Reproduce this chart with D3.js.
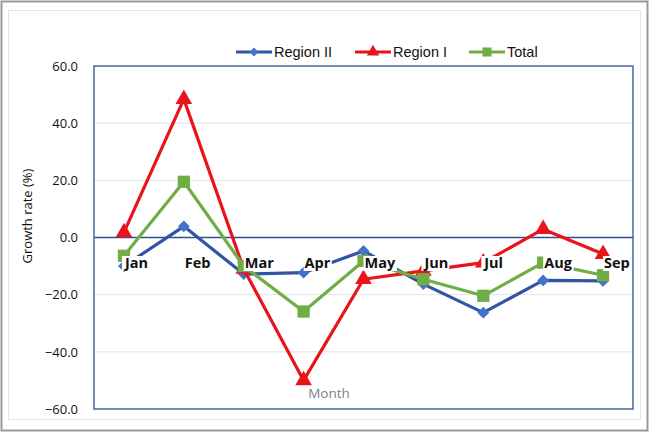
<!DOCTYPE html>
<html>
<head>
<meta charset="utf-8">
<script src="https://cdn.jsdelivr.net/npm/d3@7"></script>
<style>
  body { margin: 0; background: #fff; }
  svg { display: block; }
</style>
</head>
<body>
<div class="graph-container"></div>
<script>
var months = ['Jan', 'Feb', 'Mar', 'Apr', 'May', 'Jun', 'Jul', 'Aug', 'Sep'];
var regionII = [-10, 3.9, -12.8, -12.3, -4.7, -16.3, -26.3, -15, -15.2];
var regionI = [1.8, 48.4, -11, -50, -14.6, -11.7, -8.8, 2.9, -5.8];
var total = [-6.4, 19.5, -10, -25.9, -8.2, -14.6, -20.4, -8.8, -13.2];
var yTicks = [-60, -40, -20, 0, 20, 40, 60];

var svgWidth = 649;
var svgHeight = 432;
var plotLeft = 94;
var plotRight = 633;
var plotTop = 66;
var plotBottom = 409;

var series = [
  { name: 'Region II', values: regionII, line: '#2f55a4', fill: '#4472c4', shape: d3.symbolSquare, size: 70, rotate: 45 },
  { name: 'Region I', values: regionI, line: '#e8131b', fill: '#e8131b', shape: d3.symbolTriangle, size: 120, rotate: 0 },
  { name: 'Total', values: total, line: '#70ad47', fill: '#70ad47', shape: d3.symbolSquare, size: 150, rotate: 0 }
];

var svg = d3.select('.graph-container').append('svg')
  .attr('width', svgWidth)
  .attr('height', svgHeight);

// outer borders
svg.append('rect')
  .attr('x', 1.5).attr('y', 1.5)
  .attr('width', svgWidth - 3).attr('height', svgHeight - 3)
  .attr('fill', 'none').attr('stroke', '#9a9a9a').attr('stroke-width', 2);
svg.append('rect')
  .attr('x', 8.5).attr('y', 10.5)
  .attr('width', 632).attr('height', 409)
  .attr('fill', 'none').attr('stroke', '#e6e6e6').attr('stroke-width', 1);

var xScale = d3.scaleBand()
  .domain(months)
  .range([plotLeft, plotRight]);

var yScale = d3.scaleLinear()
  .domain([-60, 60])
  .range([plotBottom, plotTop]);

function xPos(i) {
  return xScale(months[i]) + xScale.bandwidth() / 2;
}

// gridlines
svg.append('g')
  .selectAll('line')
  .data(yTicks.filter(function(t) { return t !== 0 && Math.abs(t) !== 60; }))
  .enter()
  .append('line')
  .attr('x1', plotLeft).attr('x2', plotRight)
  .attr('y1', function(d) { return yScale(d); })
  .attr('y2', function(d) { return yScale(d); })
  .attr('stroke', '#e3e3e3').attr('stroke-width', 1);

// y tick labels
var yAxis = d3.axisLeft(yScale)
  .tickValues(yTicks)
  .tickSize(0)
  .tickPadding(16)
  .tickFormat(d3.format('.1f'));
var yG = svg.append('g')
  .attr('transform', 'translate(' + plotLeft + ',0)')
  .call(yAxis);
yG.select('.domain').remove();
yG.selectAll('text')
  .style('font-family', 'Open Sans, sans-serif')
  .style('font-size', '13px')
  .attr('fill', '#111');

// zero line
svg.append('line')
  .attr('x1', plotLeft).attr('x2', plotRight)
  .attr('y1', yScale(0)).attr('y2', yScale(0))
  .attr('stroke', '#2f4f8f').attr('stroke-width', 1.3);

// series lines and markers
series.forEach(function(s) {
  var line = d3.line()
    .x(function(d, i) { return xPos(i); })
    .y(function(d) { return yScale(d); });
  svg.append('path')
    .datum(s.values)
    .attr('d', line)
    .attr('fill', 'none')
    .attr('stroke', s.line)
    .attr('stroke-width', 3.2)
    .attr('stroke-linejoin', 'round');
  svg.append('g')
    .selectAll('path')
    .data(s.values)
    .enter()
    .append('path')
    .attr('d', d3.symbol().type(s.shape).size(s.size))
    .attr('transform', function(d, i) {
      return 'translate(' + xPos(i) + ',' + yScale(d) + ') rotate(' + s.rotate + ')';
    })
    .attr('fill', s.fill);
});

// month labels with white boxes (they sit over the lines)
var labelY = 268;
var labelG = svg.append('g');
months.forEach(function(m) {
  var x = xScale(m) + xScale.bandwidth() / 2 + 1;
  var t = labelG.append('text')
    .attr('x', x)
    .attr('y', labelY)
    .style('font-family', 'Open Sans, sans-serif')
    .style('font-weight', 'bold')
    .style('font-size', '14.5px')
    .attr('fill', '#111')
    .text(m);
  var bb = t.node().getBBox();
  labelG.insert('rect', 'text')
    .attr('x', bb.x - 1).attr('y', labelY - 12)
    .attr('width', bb.width + 2).attr('height', 15)
    .attr('fill', '#fff');
});

// plot border
svg.append('rect')
  .attr('x', plotLeft).attr('y', plotTop)
  .attr('width', plotRight - plotLeft).attr('height', plotBottom - plotTop)
  .attr('fill', 'none').attr('stroke', '#2f4f8f').attr('stroke-width', 1.3);

// axis titles
svg.append('text')
  .attr('x', 329).attr('y', 398)
  .style('text-anchor', 'middle')
  .style('font-family', 'Open Sans, sans-serif')
  .style('font-size', '13.5px')
  .attr('fill', '#808080')
  .text('Month');

svg.append('text')
  .attr('transform', 'translate(32,216) rotate(-90)')
  .style('text-anchor', 'middle')
  .style('font-family', 'Open Sans, sans-serif')
  .style('font-size', '13px')
  .attr('fill', '#111')
  .text('Growth rate (%)');

// legend
var legendX = [236, 355, 469];
series.forEach(function(s, i) {
  var g = svg.append('g').attr('transform', 'translate(' + legendX[i] + ',52)');
  g.append('line')
    .attr('x1', 0).attr('x2', 36)
    .attr('stroke', s.line).attr('stroke-width', 3.2);
  g.append('path')
    .attr('d', d3.symbol().type(s.shape).size(s.size * 0.55))
    .attr('transform', 'translate(18,0) rotate(' + s.rotate + ')')
    .attr('fill', s.fill);
  g.append('text')
    .attr('x', 38).attr('y', 5)
    .style('font-family', 'Liberation Sans, Arial, sans-serif')
    .style('font-size', '14.5px')
    .attr('fill', '#111')
    .text(s.name);
});
</script>
</body>
</html>
